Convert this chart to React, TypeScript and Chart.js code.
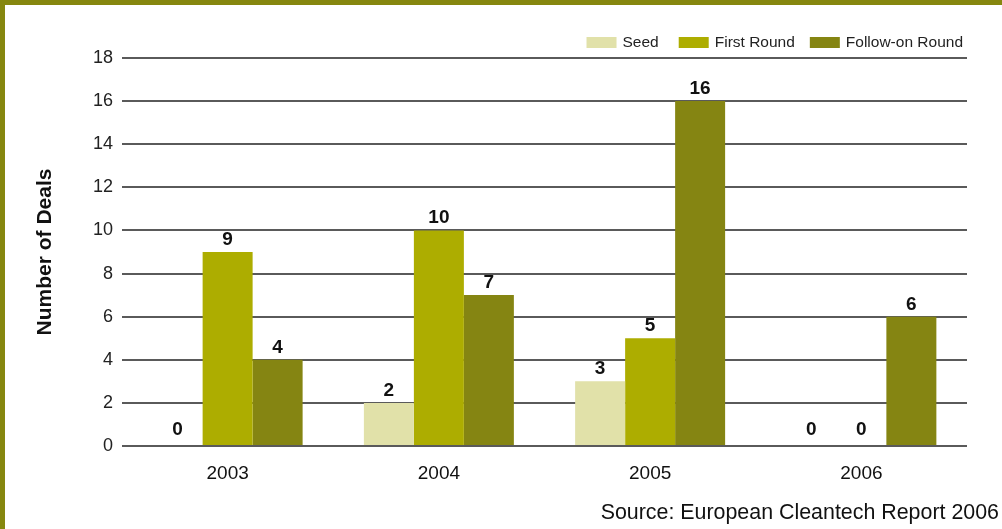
import React, { useEffect, useRef } from "react";
import { Chart, registerables } from "chart.js";

Chart.register(...registerables);

const categories = ["2003", "2004", "2005", "2006"];
const seriesNames = ["Seed", "First Round", "Follow-on Round"];
const seedValues = [0, 2, 3, 0];
const firstRoundValues = [9, 10, 5, 0];
const followOnValues = [4, 7, 16, 6];
const seriesColors = ["#E1E1A9", "#ADAD00", "#858512"];
const yTickMax = 18;
const yTickStep = 2;
const yTitle = "Number of Deals";
const sourceText = "Source: European Cleantech Report 2006";

const FONT = "'Liberation Sans', Arial, Helvetica, sans-serif";
const OLIVE = "#86870F";

const decorPlugin = {
  id: "decor",
  beforeDraw(chart: any) {
    const ctx = chart.ctx;
    ctx.save();
    ctx.fillStyle = "#ffffff";
    ctx.fillRect(0, 0, chart.width, chart.height);
    ctx.fillStyle = OLIVE;
    ctx.fillRect(0, 0, chart.width, 5);
    ctx.fillRect(0, 0, 5, chart.height);
    ctx.restore();
  },
  afterDraw(chart: any) {
    const ctx = chart.ctx;
    ctx.save();
    // legend
    const boxW = 30;
    const boxH = 11;
    const boxY = 37;
    const textY = 43;
    ctx.font = `15.5px ${FONT}`;
    ctx.textBaseline = "middle";
    ctx.textAlign = "left";
    const gaps = [20, 15];
    const widths = seriesNames.map((n) => ctx.measureText(n).width);
    let total = 0;
    seriesNames.forEach((n, i) => {
      total += boxW + 6 + widths[i];
      if (i < gaps.length) total += gaps[i];
    });
    let x = 963 - total;
    seriesNames.forEach((n, i) => {
      ctx.fillStyle = seriesColors[i];
      ctx.fillRect(x, boxY, boxW, boxH);
      x += boxW + 6;
      ctx.fillStyle = "#222";
      ctx.fillText(n, x, textY);
      x += widths[i];
      if (i < gaps.length) x += gaps[i];
    });
    // source
    ctx.font = `21.4px ${FONT}`;
    ctx.textAlign = "right";
    ctx.textBaseline = "middle";
    ctx.fillStyle = "#111";
    ctx.fillText(sourceText, 999, 513);
    ctx.restore();
  },
  afterDatasetsDraw(chart: any) {
    const ctx = chart.ctx;
    ctx.save();
    ctx.font = `bold 19px ${FONT}`;
    ctx.textAlign = "center";
    ctx.textBaseline = "alphabetic";
    ctx.fillStyle = "#111";
    chart.data.datasets.forEach((ds: any, di: number) => {
      const meta = chart.getDatasetMeta(di);
      meta.data.forEach((bar: any, i: number) => {
        const v = ds.data[i];
        const y = v === 0 ? bar.base - 11 : bar.y - 7;
        ctx.fillText(String(v), bar.x, y);
      });
    });
    ctx.restore();
  },
};

export default function App() {
  const ref = useRef<HTMLCanvasElement | null>(null);
  useEffect(() => {
    document.body.style.margin = "0";
    const canvas = ref.current!;
    const values = [seedValues, firstRoundValues, followOnValues];
    const chart = new Chart(canvas, {
      type: "bar",
      data: {
        labels: categories,
        datasets: seriesNames.map((name, i) => ({
          label: name,
          data: values[i],
          backgroundColor: seriesColors[i],
          borderWidth: 0,
          categoryPercentage: 0.71,
          barPercentage: 1,
        })),
      },
      options: {
        responsive: false,
        animation: false,
        devicePixelRatio: 1,
        layout: { padding: { top: 58, right: 35, bottom: 0, left: 0 } },
        plugins: {
          legend: { display: false },
          tooltip: { enabled: false },
        },
        scales: {
          x: {
            grid: { display: false },
            border: { display: false },
            ticks: {
              font: { family: FONT, size: 19 },
              color: "#111",
              padding: 8,
            },
            afterFit(scale: any) {
              scale.height = 83;
            },
          },
          y: {
            min: 0,
            max: yTickMax,
            ticks: {
              stepSize: yTickStep,
              font: { family: FONT, size: 18 },
              color: "#222",
              padding: 9,
            },
            grid: { color: "#5a5a5a", lineWidth: 2, drawTicks: false },
            border: { display: false },
            title: {
              display: true,
              text: yTitle,
              font: { family: FONT, size: 21, weight: "bold" },
              color: "#111",
              padding: { top: 33, bottom: 0 },
            },
            afterFit(scale: any) {
              scale.width = 122;
            },
          },
        },
      },
      plugins: [decorPlugin],
    });
    return () => chart.destroy();
  }, []);
  return (
    <div style={{ position: "fixed", left: 0, top: 0, width: 1002, height: 529 }}>
      <canvas ref={ref} width={1002} height={529} />
    </div>
  );
}
